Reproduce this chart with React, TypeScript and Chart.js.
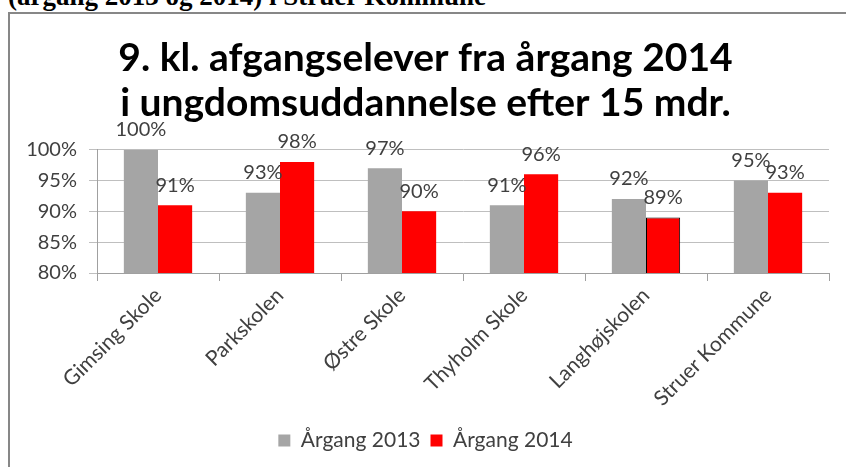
import React, { useEffect, useRef } from "react";
import { Chart, registerables } from "chart.js";

Chart.register(...registerables);

const categories = [
  "Gimsing Skole",
  "Parkskolen",
  "Østre Skole",
  "Thyholm Skole",
  "Langhøjskolen",
  "Struer Kommune",
];
const values2013 = [100, 93, 97, 91, 92, 95];
const values2014 = [91, 98, 90, 96, 89, 93];
const yTicks = [80, 85, 90, 95, 100];
const titleLines = [
  "9. kl. afgangselever fra årgang 2014",
  "i ungdomsuddannelse efter 15 mdr.",
];
const headingText = "(årgang 2013 og 2014) i Struer Kommune";

const FONT = "Lato, 'Open Sans', sans-serif";
const TEXT = "#404040";

const dataLabelPlugin = {
  id: "dataLabels",
  afterDatasetsDraw(chart: any) {
    const ctx = chart.ctx;
    ctx.save();
    ctx.font = `20px ${FONT}`;
    ctx.fillStyle = TEXT;
    ctx.textAlign = "center";
    ctx.textBaseline = "middle";
    chart.data.datasets.forEach((ds: any, i: number) => {
      const meta = chart.getDatasetMeta(i);
      meta.data.forEach((bar: any, j: number) => {
        ctx.fillText(ds.data[j] + "%", bar.x, bar.y - 20);
      });
    });
    ctx.restore();
  },
};

export default function App() {
  const ref = useRef<HTMLCanvasElement>(null);
  useEffect(() => {
    if (!ref.current) return;
    const chart = new Chart(ref.current, {
      type: "bar",
      data: {
        labels: categories,
        datasets: [
          {
            label: "Årgang 2013",
            data: values2013,
            backgroundColor: "#A5A5A5",
            borderWidth: 0,
          },
          {
            label: "Årgang 2014",
            data: values2014,
            backgroundColor: "#FF0000",
            borderColor: values2014.map((_, i) => (i === 4 ? "#000000" : "#FF0000")),
            borderWidth: values2014.map((_, i) => (i === 4 ? 1 : 0)),
          },
        ],
      },
      options: {
        animation: false,
        responsive: false,
        maintainAspectRatio: false,
        layout: { padding: { left: 22, right: 17, top: 0, bottom: 6 } },
        datasets: {
          bar: { categoryPercentage: 0.56, barPercentage: 1 },
        },
        plugins: {
          title: {
            display: true,
            text: titleLines,
            color: "#000000",
            font: { family: FONT, size: 39, weight: "bold", lineHeight: 1.15 },
            padding: { top: 36, bottom: 24 },
          },
          legend: {
            position: "bottom",
            labels: {
              color: TEXT,
              font: { family: FONT, size: 21 },
              boxWidth: 12,
              boxHeight: 12,
              padding: 10,
            },
          },
          tooltip: { enabled: false },
        },
        scales: {
          x: {
            grid: {
              drawOnChartArea: false,
              drawTicks: true,
              tickLength: 8,
              color: "#A0A0A0",
              offset: true,
            },
            border: { display: true, color: "#A0A0A0" },
            ticks: {
              color: TEXT,
              font: { family: FONT, size: 21 },
              minRotation: 45,
              maxRotation: 45,
              autoSkip: false,
              padding: 2,
            },
            afterFit(scale: any) {
              scale.height = 147;
            },
          },
          y: {
            min: 80,
            max: 100,
            afterBuildTicks(scale: any) {
              scale.ticks = yTicks.map((v) => ({ value: v }));
            },
            grid: {
              color: "#BFBFBF",
              drawTicks: true,
              tickLength: 8,
            },
            border: { display: true, color: "#A0A0A0" },
            ticks: {
              color: TEXT,
              font: { family: FONT, size: 20 },
              padding: 12,
              callback: (v: any) => v + "%",
            },
            afterFit(scale: any) {
              scale.width = 75;
            },
          },
        },
      },
      plugins: [dataLabelPlugin],
    } as any);
    return () => chart.destroy();
  }, []);

  return (
    <div style={{ position: "absolute", left: 0, top: 0, width: 846, height: 467, overflow: "hidden", background: "#fff" }}>
      <div
        style={{
          position: "absolute",
          left: 8,
          top: -17,
          fontFamily: "'Liberation Serif', 'Times New Roman', serif",
          fontWeight: "bold",
          fontSize: 27,
          lineHeight: "27px",
          whiteSpace: "nowrap",
          color: "#000",
        }}
      >
        {headingText}
      </div>
      <div
        style={{
          position: "absolute",
          left: 8,
          top: 12,
          width: 900,
          height: 500,
          borderLeft: "2px solid #878787",
          borderTop: "2px solid #878787",
        }}
      />
      <canvas ref={ref} width={846} height={467} style={{ position: "absolute", left: 0, top: 0, width: 846, height: 467 }} />
    </div>
  );
}
